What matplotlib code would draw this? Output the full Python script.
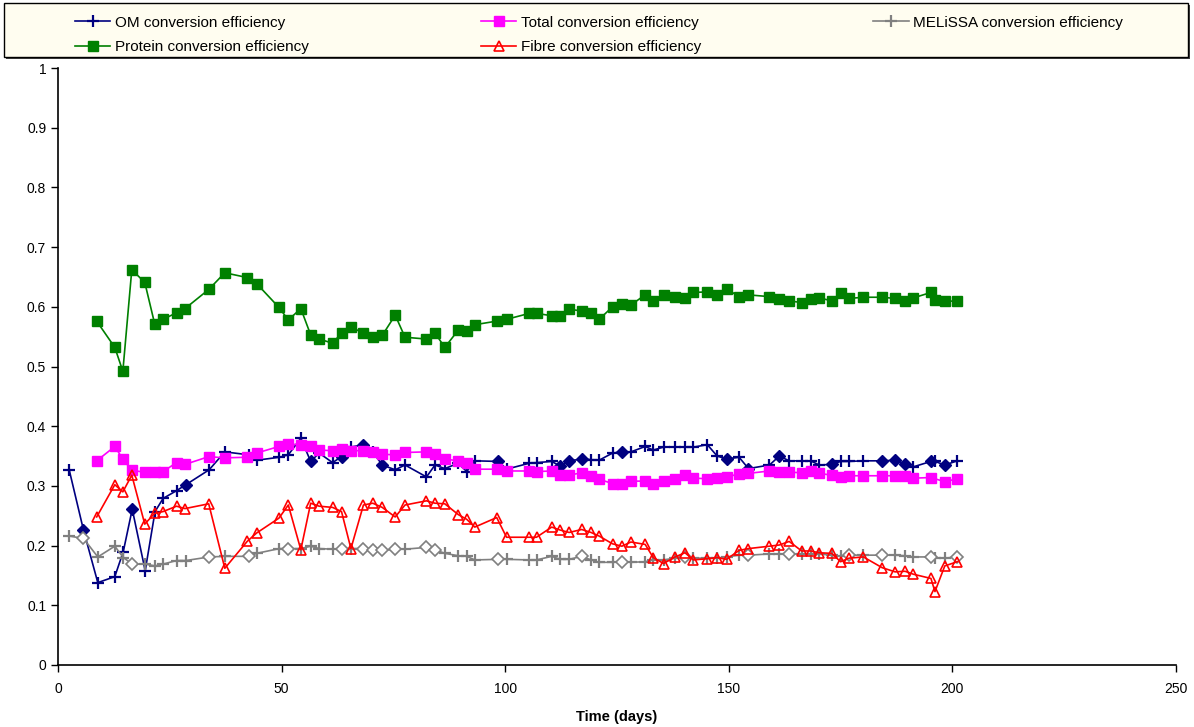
import matplotlib
matplotlib.use('Agg')
import matplotlib.pyplot as plt
from matplotlib.patches import Rectangle

plt.rcParams['font.family'] = ['Liberation Sans', 'DejaVu Sans']

# sampling days shared by the protein / total / fibre series
days_a = [8.65, 12.7, 14.5, 16.5, 19.4, 21.6, 23.5, 26.5, 28.4, 33.7, 37.3, 42.3, 44.4,
          49.4, 51.5, 54.3, 56.5, 58.4, 61.4, 63.4, 65.5, 68.3, 70.4, 72.5, 75.4, 77.6,
          82.4, 84.3, 86.5, 89.5, 91.4, 93.2, 98.1, 100.3, 105.4, 107.0, 110.4, 112.3,
          114.3, 117.1, 119.2, 121.0, 124.0, 126.1, 128.1, 131.3, 133.1, 135.4, 138.0,
          140.2, 142.1, 145.2, 147.4, 149.5, 152.3, 154.4, 159.1, 161.3, 163.5, 166.3,
          168.3, 170.2, 173.0, 175.0, 176.9, 180.1, 184.3, 187.2, 189.4, 191.3, 195.2,
          196.1, 198.3, 201.1]

protein = [0.576, 0.532, 0.492, 0.662, 0.641, 0.572, 0.579, 0.590, 0.597, 0.629, 0.657,
           0.649, 0.639, 0.599, 0.578, 0.597, 0.553, 0.546, 0.539, 0.556, 0.566, 0.556,
           0.549, 0.552, 0.586, 0.549, 0.546, 0.556, 0.532, 0.561, 0.559, 0.570, 0.576,
           0.579, 0.589, 0.589, 0.585, 0.585, 0.596, 0.593, 0.589, 0.579, 0.600, 0.605,
           0.603, 0.620, 0.610, 0.620, 0.617, 0.615, 0.624, 0.625, 0.620, 0.630, 0.617,
           0.620, 0.617, 0.613, 0.610, 0.607, 0.613, 0.615, 0.610, 0.623, 0.614, 0.616,
           0.616, 0.614, 0.610, 0.615, 0.624, 0.611, 0.609, 0.610]

fibre = [0.248, 0.302, 0.290, 0.318, 0.236, 0.254, 0.257, 0.266, 0.262, 0.270, 0.162,
         0.207, 0.221, 0.246, 0.268, 0.193, 0.271, 0.266, 0.264, 0.257, 0.195, 0.268,
         0.271, 0.264, 0.248, 0.268, 0.275, 0.271, 0.270, 0.252, 0.244, 0.231, 0.247,
         0.214, 0.214, 0.214, 0.231, 0.226, 0.222, 0.227, 0.222, 0.216, 0.203, 0.199,
         0.206, 0.202, 0.180, 0.170, 0.181, 0.188, 0.176, 0.178, 0.180, 0.177, 0.192,
         0.195, 0.199, 0.201, 0.207, 0.191, 0.191, 0.188, 0.187, 0.173, 0.179, 0.181,
         0.163, 0.156, 0.157, 0.152, 0.145, 0.123, 0.166, 0.173]

days_total = [d for d in days_a if d != 196.1]
total = [0.342, 0.366, 0.345, 0.326, 0.323, 0.323, 0.324, 0.339, 0.336, 0.349, 0.347,
         0.348, 0.355, 0.366, 0.370, 0.369, 0.367, 0.360, 0.359, 0.361, 0.359, 0.359,
         0.356, 0.353, 0.352, 0.356, 0.357, 0.353, 0.345, 0.342, 0.338, 0.328, 0.328,
         0.325, 0.325, 0.324, 0.325, 0.318, 0.318, 0.322, 0.317, 0.311, 0.304, 0.304,
         0.308, 0.308, 0.304, 0.308, 0.312, 0.318, 0.313, 0.312, 0.314, 0.315, 0.320,
         0.321, 0.325, 0.324, 0.323, 0.322, 0.325, 0.321, 0.318, 0.315, 0.317, 0.317,
         0.317, 0.317, 0.317, 0.313, 0.314, 0.307, 0.312]

# OM and MELiSSA series start earlier
days_b = [2.5, 5.7, 8.9, 12.7, 14.6, 16.6, 19.5, 21.7, 23.5, 26.5, 28.6, 33.8, 37.3,
          42.7, 44.4, 49.5, 51.5, 54.3, 56.5, 58.4, 61.4, 63.4, 65.5, 68.3, 70.4, 72.5,
          75.4, 77.6, 82.4, 84.3, 86.5, 89.5, 91.4, 93.2, 98.5, 100.3, 105.4, 107.0,
          110.4, 112.3, 114.3, 117.1, 119.2, 121.0, 124.0, 126.1, 128.1, 131.3, 133.1,
          135.4, 138.0, 140.2, 142.1, 145.2, 147.4, 149.5, 152.3, 154.4, 159.1, 161.3,
          163.5, 166.3, 168.3, 170.2, 173.0, 175.0, 176.9, 180.1, 184.3, 187.2, 189.4,
          191.3, 195.2, 196.1, 198.3, 201.1]

om = [0.327, 0.226, 0.138, 0.148, 0.190, 0.261, 0.158, 0.257, 0.279, 0.292, 0.302,
      0.327, 0.357, 0.352, 0.343, 0.348, 0.352, 0.380, 0.341, 0.355, 0.339, 0.349,
      0.365, 0.369, 0.357, 0.335, 0.327, 0.335, 0.315, 0.335, 0.329, 0.338, 0.324,
      0.342, 0.341, 0.328, 0.338, 0.339, 0.341, 0.333, 0.342, 0.345, 0.344, 0.343,
      0.355, 0.357, 0.357, 0.366, 0.360, 0.365, 0.365, 0.365, 0.365, 0.369, 0.350,
      0.345, 0.348, 0.329, 0.335, 0.350, 0.342, 0.342, 0.342, 0.335, 0.336, 0.341,
      0.341, 0.342, 0.342, 0.343, 0.337, 0.332, 0.341, 0.341, 0.335, 0.342]

melissa = [0.216, 0.212, 0.181, 0.199, 0.180, 0.169, 0.169, 0.166, 0.169, 0.175, 0.175,
           0.181, 0.182, 0.182, 0.187, 0.195, 0.195, 0.195, 0.199, 0.195, 0.194, 0.195,
           0.195, 0.195, 0.193, 0.192, 0.194, 0.194, 0.197, 0.193, 0.187, 0.183, 0.182,
           0.176, 0.177, 0.177, 0.176, 0.176, 0.182, 0.177, 0.177, 0.182, 0.176, 0.172,
           0.172, 0.173, 0.172, 0.173, 0.176, 0.176, 0.179, 0.181, 0.179, 0.179, 0.179,
           0.181, 0.184, 0.184, 0.186, 0.186, 0.186, 0.186, 0.186, 0.186, 0.184, 0.182,
           0.184, 0.184, 0.184, 0.184, 0.183, 0.181, 0.181, 0.179, 0.179, 0.181]

# points drawn with a diamond instead of a cross
om_diamond_days = [5.7, 16.6, 28.6, 56.5, 63.4, 68.3, 72.5, 98.5, 112.3, 114.3, 117.1,
                   126.1, 149.5, 154.4, 161.3, 173.0, 184.3, 187.2, 189.4, 195.2, 198.3]
mel_diamond_days = [5.7, 16.6, 33.8, 42.7, 51.5, 63.4, 68.3, 70.4, 72.5, 75.4, 82.4,
                    84.3, 98.5, 117.1, 126.1, 140.2, 154.4, 163.5, 176.9, 184.3, 195.2,
                    201.1]

om_dia = [i for i, d in enumerate(days_b) if d in om_diamond_days]
om_plus = [i for i, d in enumerate(days_b) if d not in om_diamond_days]
mel_dia = [i for i, d in enumerate(days_b) if d in mel_diamond_days]
mel_plus = [i for i, d in enumerate(days_b) if d not in mel_diamond_days]

fig = plt.figure(figsize=(11.94, 7.27), dpi=100)
ax = fig.add_axes([58 / 1194, 1 - 665 / 727, (1176 - 58) / 1194, (665 - 68) / 727])

lw = 1.2
h_om, = ax.plot(days_b, om, color='#000080', lw=lw, marker='+', ms=8, mew=1.6,
                markevery=om_plus, label='OM conversion efficiency', zorder=3)
ax.plot(days_b, om, ls='none', color='#000080', marker='D', ms=6.5,
        markevery=om_dia, zorder=3)
h_tot, = ax.plot(days_total, total, color='#FF00FF', lw=lw, marker='s', ms=7,
                 label='Total conversion efficiency', zorder=4)
h_mel, = ax.plot(days_b, melissa, color='#808080', lw=lw, marker='+', ms=8, mew=1.6,
                 markevery=mel_plus, label='MELiSSA conversion efficiency', zorder=3)
ax.plot(days_b, melissa, ls='none', color='#808080', marker='D', ms=6, mfc='white',
        mew=1.2, markevery=mel_dia, zorder=3)
h_pro, = ax.plot(days_a, protein, color='#008000', lw=lw, marker='s', ms=7.5,
                 label='Protein conversion efficiency', zorder=4)
h_fib, = ax.plot(days_a, fibre, color='#FF0000', lw=lw, marker='^', ms=7, mfc='none',
                 mew=1.2, label='Fibre conversion efficiency', zorder=5)

ax.set_xlim(0, 250)
ax.set_ylim(0, 1)
ax.set_xticks(range(0, 251, 50))
ax.set_yticks([i / 10 for i in range(11)])
ax.set_yticklabels(['0', '0.1', '0.2', '0.3', '0.4', '0.5', '0.6', '0.7', '0.8', '0.9', '1'])
ax.tick_params(labelsize=10, length=5, width=1, direction='out')
ax.tick_params(axis='x', pad=7)
for side in ('top', 'right'):
    ax.spines[side].set_visible(False)
for side in ('left', 'bottom'):
    ax.spines[side].set_linewidth(1.2)
ax.set_xlabel('Time (days)', fontsize=10.5, fontweight='bold', labelpad=10)

# legend frame with shadow, Excel style
fig.patches.append(Rectangle((6 / 1194, 1 - 59 / 727), 1184 / 1194, 54 / 727,
                             transform=fig.transFigure, facecolor='#404040',
                             edgecolor='none', zorder=0))
fig.patches.append(Rectangle((4 / 1194, 1 - 57 / 727), 1184 / 1194, 54 / 727,
                             transform=fig.transFigure, facecolor='#FFFDF0',
                             edgecolor='black', lw=1, zorder=1))

handles = [h_om, h_pro, h_tot, h_fib, h_mel]
fig.legend(handles=handles, labels=[h.get_label() for h in handles], ncol=3,
           loc='center', mode='expand', frameon=False, fontsize=11,
           bbox_to_anchor=(75 / 1194, 1 - 63 / 727, 1048 / 1194, 56 / 727),
           borderpad=0, handlelength=2.3, handletextpad=0.3, labelspacing=0.7,
           borderaxespad=0)

fig.savefig('out.png', dpi=100)
